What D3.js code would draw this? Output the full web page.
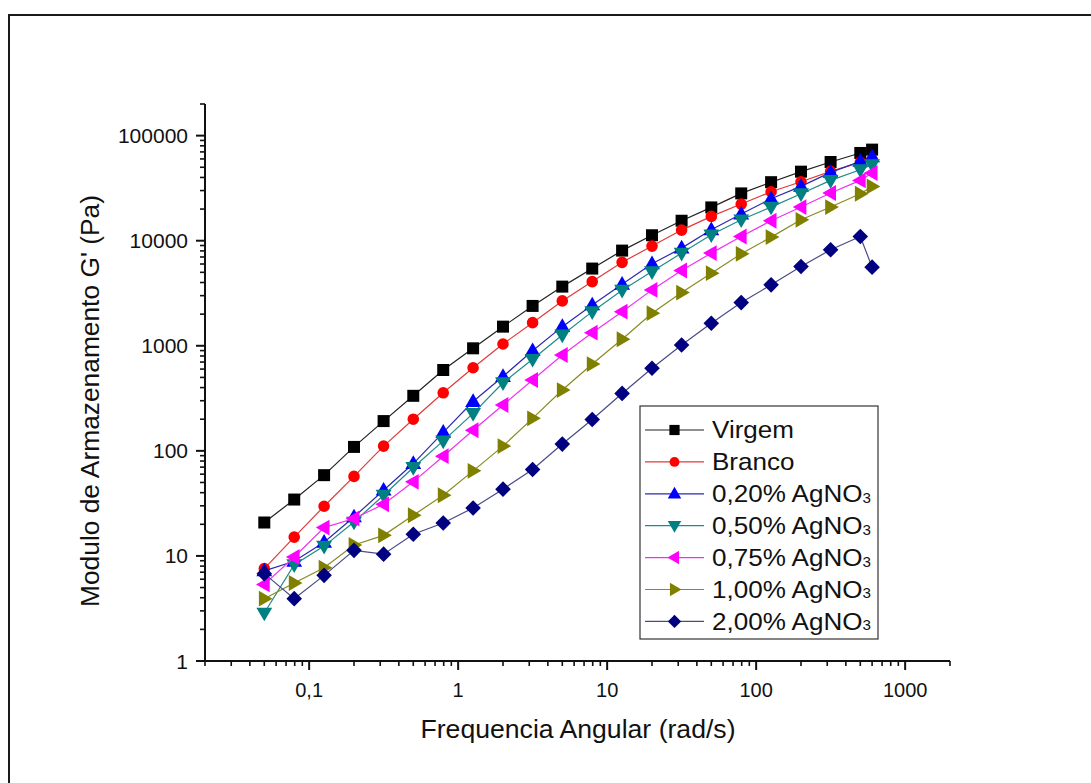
<!DOCTYPE html>
<html><head><meta charset="utf-8">
<script src="https://cdn.jsdelivr.net/npm/d3@7"></script>
<style>
html,body{margin:0;padding:0;background:#fff;}
svg text{font-family:"Liberation Sans",Arial,sans-serif;fill:#111;}
</style></head>
<body>
<svg id="chart" width="1091" height="783"></svg>
<script>
// ---- data ----
const freq = [0.05, 0.0794, 0.126, 0.2, 0.316, 0.5, 0.794, 1.26, 2, 3.16, 5, 7.94, 12.6, 20, 31.6, 50, 79.4, 126, 200, 316, 500, 600];
const virgem = [20.8, 34.4, 58.7, 109, 192, 334, 588, 946, 1521, 2395, 3656, 5430, 8050, 11270, 15490, 20740, 28200, 36050, 45400, 56100, 68400, 73600];
const branco = [7.57, 15.1, 29.7, 57.1, 111, 200, 357, 618, 1040, 1660, 2673, 4083, 6225, 8890, 12620, 17030, 22340, 29240, 36390, 45700, 55620, 59000];
const ag020 = [7.2, 8.9, 13.5, 23.5, 42.2, 75.7, 150, 295, 510, 898, 1521, 2449, 3850, 6025, 8500, 12700, 17950, 25070, 32870, 44670, 56900, 62700];
const ag050 = [2.86, 8.26, 12.4, 21.0, 37.8, 69.5, 124.5, 227, 445, 743, 1268, 2113, 3380, 5080, 7620, 11380, 15810, 20890, 28000, 37500, 47400, 52900];
const ag075 = [5.36, 9.76, 18.6, 22.7, 31.0, 50.7, 89, 157, 273, 472, 817, 1333, 2113, 3404, 5200, 7620, 10960, 15490, 20900, 28420, 37500, 44100];
const ag100 = [3.92, 5.52, 7.73, 12.7, 15.7, 24.4, 37.8, 64.5, 111, 204, 379, 670, 1153, 2042, 3206, 4911, 7500, 10820, 15810, 20900, 28000, 32870];
const ag200 = [6.78, 3.92, 6.53, 11.3, 10.4, 16.1, 20.6, 28.6, 43.2, 66.5, 116, 199, 352, 611, 1018, 1637, 2576, 3800, 5680, 8190, 10960, 5600];
const seriesNames = ["Virgem", "Branco", "0,20% AgNO", "0,50% AgNO", "0,75% AgNO", "1,00% AgNO", "2,00% AgNO"];
const seriesSub = ["", "", "3", "3", "3", "3", "3"];
const xTickValues = [0.1, 1, 10, 100, 1000];
const xTickLabels = ["0,1", "1", "10", "100", "1000"];
const yTickValues = [1, 10, 100, 1000, 10000, 100000];
const yTickLabels = ["1", "10", "100", "1000", "10000", "100000"];
const xTitle = "Frequencia Angular (rad/s)";
const yTitle = "Modulo de Armazenamento G' (Pa)";

// ---- styles ----
const colors = ["#000000", "#ff0000", "#0000ff", "#008080", "#ff00ff", "#808000", "#000080"];
const lineColors = ["#222222", "#e03a3a", "#2a2ab0", "#1f8a8a", "#ee33ee", "#8a8a20", "#4a4a8a"];
const shapes = ["square", "circle", "up", "down", "left", "right", "diamond"];
const allSeries = [virgem, branco, ag020, ag050, ag075, ag100, ag200];

const svg = d3.select("#chart");
// outer frame
svg.append("rect").attr("x", 9).attr("y", 15).attr("width", 1200).attr("height", 900)
  .attr("fill", "none").attr("stroke", "#1a1a1a").attr("stroke-width", 2);

const L = 205, R = 950, T = 104, B = 661;
const x = d3.scaleLog().domain([0.02, 2000]).range([L, R]);
const y = d3.scaleLog().domain([1, 200000]).range([B, T]);

function shapePath(s, r) {
  switch (s) {
    case "square": return `M${-r},${-r}H${r}V${r}H${-r}Z`;
    case "circle": return d3.symbol(d3.symbolCircle, Math.PI * r * r)();
    case "up": return `M0,${-r*1.15}L${r*1.1},${r*0.75}L${-r*1.1},${r*0.75}Z`;
    case "down": return `M0,${r*1.15}L${r*1.1},${-r*0.75}L${-r*1.1},${-r*0.75}Z`;
    case "left": return `M${-r*1.15},0L${r*0.75},${-r*1.1}L${r*0.75},${r*1.1}Z`;
    case "right": return `M${r*1.15},0L${-r*0.75},${-r*1.1}L${-r*0.75},${r*1.1}Z`;
    case "diamond": return `M0,${-r*1.3}L${r*1.3},0L0,${r*1.3}L${-r*1.3},0Z`;
  }
}
const sizes = {square: 6, circle: 5.8, up: 7.2, down: 7.2, left: 7.2, right: 7.2, diamond: 6};

// axes
const yMinor = [];
for (let e = 0; e <= 5; e++) for (let k = 1; k <= 9; k++) { const v = k * Math.pow(10, e); if (v <= 200000) yMinor.push(v); }
const xMinor = [];
for (let e = -2; e <= 3; e++) for (let k = 1; k <= 9; k++) { const v = k * Math.pow(10, e); if (v >= 0.02 && v <= 2000) xMinor.push(v); }

const gy = svg.append("g");
gy.append("line").attr("x1", L).attr("x2", L).attr("y1", T).attr("y2", B + 1).attr("stroke", "#111").attr("stroke-width", 2);
gy.selectAll("line.mi").data(yMinor.filter(v => !yTickValues.includes(v))).join("line")
  .attr("x1", L - 5).attr("x2", L).attr("y1", d => y(d)).attr("y2", d => y(d)).attr("stroke", "#111").attr("stroke-width", 1.6);
gy.selectAll("line.ma").data(yTickValues).join("line")
  .attr("x1", L - 9).attr("x2", L).attr("y1", d => y(d)).attr("y2", d => y(d)).attr("stroke", "#111").attr("stroke-width", 2);
gy.selectAll("text").data(yTickValues).join("text")
  .attr("x", L - 17).attr("y", d => y(d)).attr("dy", "0.36em").attr("text-anchor", "end")
  .attr("font-size", 21).text((d, i) => yTickLabels[i]);

const gx = svg.append("g");
gx.append("line").attr("x1", L - 1).attr("x2", R).attr("y1", B).attr("y2", B).attr("stroke", "#111").attr("stroke-width", 2);
gx.selectAll("line.mi").data(xMinor.filter(v => !xTickValues.some(t => Math.abs(t - v) < 1e-9))).join("line")
  .attr("x1", d => x(d)).attr("x2", d => x(d)).attr("y1", B).attr("y2", B + 5).attr("stroke", "#111").attr("stroke-width", 1.6);
gx.selectAll("line.ma").data(xTickValues).join("line")
  .attr("x1", d => x(d)).attr("x2", d => x(d)).attr("y1", B).attr("y2", B + 9).attr("stroke", "#111").attr("stroke-width", 2);
gx.selectAll("text").data(xTickValues).join("text")
  .attr("x", d => x(d)).attr("y", B + 36).attr("text-anchor", "middle")
  .attr("font-size", 20).text((d, i) => xTickLabels[i]);

svg.append("text").attr("x", 578).attr("y", 738).attr("text-anchor", "middle")
  .attr("font-size", 26).attr("textLength", 315).attr("lengthAdjust", "spacingAndGlyphs").text(xTitle);
svg.append("text").attr("transform", `translate(99,${401}) rotate(-90)`).attr("text-anchor", "middle")
  .attr("font-size", 25.5).attr("textLength", 412).attr("lengthAdjust", "spacingAndGlyphs").text(yTitle);

// series
const line = d3.line().x(d => x(d[0])).y(d => y(d[1]));
allSeries.forEach((vals, i) => {
  const pts = freq.map((f, j) => [f, vals[j]]);
  const g = svg.append("g");
  g.append("path").attr("d", line(pts)).attr("fill", "none").attr("stroke", lineColors[i]).attr("stroke-width", 1.2);
  g.selectAll("path.m").data(pts).join("path").attr("class", "m")
    .attr("transform", d => `translate(${x(d[0])},${y(d[1])})`)
    .attr("d", shapePath(shapes[i], sizes[shapes[i]])).attr("fill", colors[i]);
});

// legend
const lg = svg.append("g");
lg.append("rect").attr("x", 640).attr("y", 406).attr("width", 238).attr("height", 233)
  .attr("fill", "#fff").attr("stroke", "#333").attr("stroke-width", 1.2);
seriesNames.forEach((nm, i) => {
  const cy = 430 + i * 31.9;
  lg.append("line").attr("x1", 645).attr("x2", 704).attr("y1", cy).attr("y2", cy).attr("stroke", lineColors[i]).attr("stroke-width", 1.2);
  lg.append("path").attr("transform", `translate(674.5,${cy})`).attr("d", shapePath(shapes[i], sizes[shapes[i]] * 0.85)).attr("fill", colors[i]);
  const t = lg.append("text").attr("x", 712).attr("y", cy + 8.5).attr("font-size", 24)
    .attr("transform", `translate(712,0) scale(1.085,1) translate(-712,0)`);
  t.append("tspan").text(nm);
  if (seriesSub[i]) t.append("tspan").attr("font-size", 14).attr("dy", 0.5).text(seriesSub[i]);
});
</script>
</body></html>
